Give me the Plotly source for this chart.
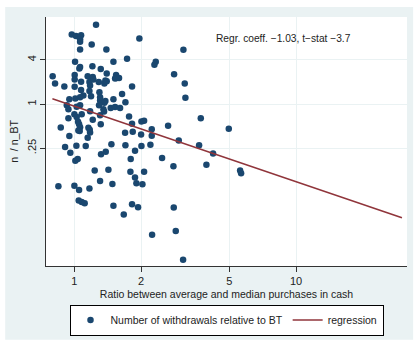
import plotly.graph_objects as go

# Scatter data: ratio between average and median cash purchases (x) vs n / n_BT (y)
ratio = [1.252, 0.973, 1.017, 1.072, 1.061, 1.061, 1.964, 1.197, 1.061, 1.394,
         3.102, 1.728, 1.007, 1.500, 2.328, 2.296, 1.206, 1.061, 1.053, 1.315,
         1.399, 2.816, 0.798, 1.003, 1.148, 1.210, 1.542, 1.552, 1.526, 1.590,
         1.003, 1.072, 1.169, 1.218, 1.288, 1.380, 1.365, 1.399, 0.818, 3.145,
         0.901, 1.003, 1.177, 1.820, 1.072, 1.169, 1.297, 1.098, 1.061, 1.189,
         1.641, 1.306, 0.949, 1.010, 1.306, 1.500, 1.380, 1.365, 1.699, 3.167,
         0.924, 1.061, 1.024, 1.292, 1.352, 1.458, 1.526, 1.607, 0.940, 1.000,
         1.079, 1.177, 1.361, 1.306, 1.764, 0.940, 1.024, 1.210, 1.039, 1.050,
         1.820, 2.006, 2.062, 1.315, 3.715, 0.868, 1.061, 1.157, 1.173, 1.057,
         1.042, 2.646, 4.969, 2.233, 0.949, 1.177, 1.148, 1.693, 1.833, 1.999,
         2.233, 2.956, 0.908, 1.021, 1.125, 1.469, 1.699, 2.006, 2.202, 3.651,
         0.959, 1.319, 1.385, 1.877, 4.222, 1.010, 1.035, 1.795, 2.486, 3.939,
         2.797, 1.235, 1.424, 1.789, 2.062, 5.589, 5.647, 1.306, 1.877, 1.904,
         0.847, 1.000, 1.050, 1.169, 1.484, 2.027, 1.046, 1.079, 1.113, 1.500,
         1.820, 1.937, 2.806, 1.670, 2.241, 2.865, 3.092]
n_rel = [12.09, 8.85, 8.50, 8.68, 7.66, 7.05, 7.82, 6.49, 5.55, 5.55,
         5.49, 4.15, 3.78, 3.78, 3.78, 3.44, 3.27, 3.20, 3.04, 3.01,
         2.60, 2.55, 2.39, 2.49, 2.39, 2.34, 2.49, 2.27, 2.23, 2.27,
         2.16, 2.01, 1.99, 2.16, 1.99, 2.09, 1.90, 2.05, 1.90, 1.90,
         1.73, 1.72, 1.79, 1.73, 1.55, 1.50, 1.45, 1.31, 1.24, 1.28,
         1.37, 1.24, 1.16, 1.19, 1.12, 1.16, 1.10, 1.04, 1.06, 1.22,
         0.959, 0.959, 0.920, 0.959, 0.847, 0.883, 0.911, 0.883, 0.847, 0.725,
         0.725, 0.796, 0.788, 0.703, 0.674, 0.640, 0.667, 0.608, 0.571, 0.531,
         0.536, 0.577, 0.589, 0.531, 0.640, 0.478, 0.483, 0.473, 0.445, 0.427,
         0.436, 0.504, 0.459, 0.454, 0.365, 0.409, 0.347, 0.405, 0.418, 0.385,
         0.369, 0.319, 0.259, 0.270, 0.268, 0.282, 0.273, 0.268, 0.279, 0.273,
         0.217, 0.206, 0.224, 0.231, 0.211, 0.168, 0.178, 0.178, 0.184, 0.148,
         0.142, 0.124, 0.127, 0.119, 0.119, 0.124, 0.114, 0.0889, 0.0997, 0.0827,
         0.0753, 0.0769, 0.0672, 0.0701, 0.0810, 0.0802, 0.0482, 0.0462, 0.0443, 0.0408,
         0.0430, 0.0391, 0.0388, 0.0311, 0.0164, 0.0185, 0.0075]

# Fitted regression line endpoints
reg_x = [0.796, 30.0]
reg_y = [1.18, 0.0281]

x_ticks = [1, 2, 5, 10]
x_tick_labels = ["1", "2", "5", "10"]
y_ticks = [4, 1, 0.25]
y_tick_labels = ["4", "1", ".25"]

BG = "#eaf2f3"
FONT = "Liberation Sans, Arial, sans-serif"
FS = 10.5

fig = go.Figure()
fig.add_trace(go.Scatter(
    x=ratio, y=n_rel, mode="markers",
    name="Number of withdrawals relative to BT",
    marker=dict(color="#1a476f", size=6.5, line=dict(width=0)),
))
fig.add_trace(go.Scatter(
    x=reg_x, y=reg_y, mode="lines", name="regression",
    line=dict(color="#90353b", width=1.5),
))

fig.update_layout(
    width=414, height=343,
    margin=dict(l=46, r=7, t=17, b=75),
    paper_bgcolor="white",
    plot_bgcolor="white",
    font=dict(family=FONT, size=FS, color="#222"),
    showlegend=True,
    legend=dict(
        orientation="h", x=0.5, xanchor="center", y=-0.155, yanchor="top",
        bgcolor="white", bordercolor="black", borderwidth=1,
        font=dict(size=FS, color="#222"), itemwidth=30,
    ),
    shapes=[
        dict(type="rect", xref="paper", yref="paper", x0=-0.113, x1=1.017,
             y0=-0.296, y1=1.04, fillcolor=BG, line=dict(width=0), layer="below"),
        dict(type="rect", xref="paper", yref="paper", x0=0, x1=1,
             y0=0, y1=1, fillcolor="white", line=dict(width=0), layer="below"),
    ],
    annotations=[
        dict(text="Regr. coeff. −1.03, t−stat −3.7", x=0.658, y=0.915,
             xref="paper", yref="paper", showarrow=False,
             font=dict(size=10.2, color="#222"), xanchor="center", yanchor="middle"),
    ],
)
fig.update_xaxes(
    type="log", range=[-0.128, 1.50],
    tickvals=x_ticks, ticktext=x_tick_labels,
    showgrid=True, gridcolor=BG, gridwidth=1,
    showline=True, linecolor="#333", linewidth=1,
    ticks="outside", ticklen=5, tickcolor="#333",
    zeroline=False, tickfont=dict(size=FS + 0.5),
    title=dict(text="Ratio between average and median purchases in cash",
               font=dict(size=FS), standoff=4),
)
fig.update_yaxes(
    type="log", range=[-2.21, 1.187],
    tickvals=y_ticks, ticktext=y_tick_labels, tickangle=-90,
    showgrid=True, gridcolor=BG, gridwidth=1,
    showline=True, linecolor="#333", linewidth=1,
    ticks="outside", ticklen=5, tickcolor="#333",
    zeroline=False, tickfont=dict(size=FS + 0.5),
    title=dict(text="n\u00a0 / n_BT", font=dict(size=FS), standoff=4),
)

fig.write_html("out.html")
